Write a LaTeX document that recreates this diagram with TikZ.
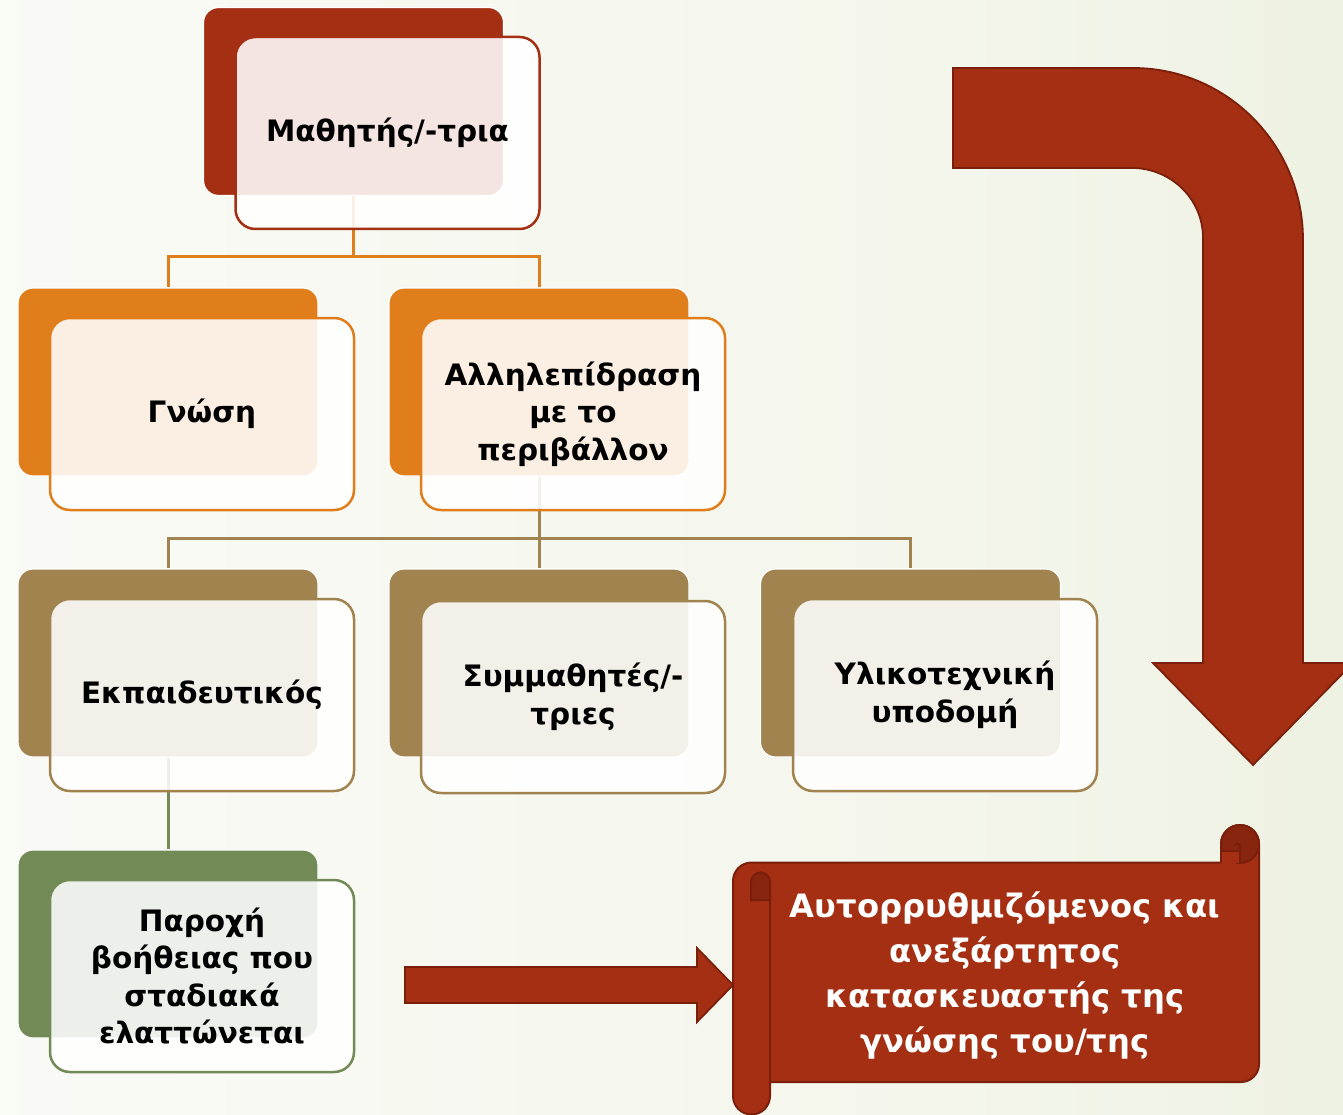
\documentclass[tikz,border=0pt]{standalone}
\usepackage{fontspec}
\setmainfont{DejaVu Sans}
\definecolor{bgA}{HTML}{F2F5E8}
\definecolor{bgL}{HTML}{FAFBF6}
\definecolor{bgM}{HTML}{F4F6EC}
\definecolor{bgR}{HTML}{E3EAD0}
\definecolor{rust}{HTML}{A52F12}
\definecolor{rustD}{HTML}{7A1F0C}
\definecolor{rustM}{HTML}{88250E}
\definecolor{orng}{HTML}{E07E1C}
\definecolor{brwn}{HTML}{A0834F}
\definecolor{grn}{HTML}{728A55}
\pgfdeclarehorizontalshading{bgshade}{100bp}{color(0bp)=(bgA); color(22bp)=(bgL); color(60bp)=(bgM); color(100bp)=(bgR)}
\tikzset{
  backbox/.style={rectangle, rounded corners=15pt, minimum width=300pt, minimum height=188pt, draw=white, line width=1.2pt, inner sep=0pt},
  frontbox/.style={rectangle, rounded corners=20pt, minimum width=304pt, minimum height=192pt, fill=white, fill opacity=0.88, text opacity=1, line width=2.5pt, align=center, inner sep=0pt, font=\bfseries\fontsize{29.5}{37.5}\selectfont},
  conn/.style={line width=3pt},
  bigarrow/.style={fill=rust, draw=rustD, line width=1.8pt, line join=miter},
  scrolltext/.style={align=center, text=white, font=\bfseries\fontsize{32.2}{45}\selectfont}
}
\begin{document}
\begin{tikzpicture}[x=1pt,y=-1pt]
\useasboundingbox (0,0) rectangle (1343,1115);
\shade[shading=bgshade] (0,0) rectangle (1343,1115);

% junction coordinates
\coordinate (j1) at (353.5,257);
\coordinate (j2) at (539,538);

% back boxes
\node[backbox, fill=rust] (b1) at (353.5,101.5) {};
\node[backbox, fill=orng] (b2) at (168,382) {};
\node[backbox, fill=orng] (b3) at (539,382) {};
\node[backbox, fill=brwn] (b4) at (168,663) {};
\node[backbox, fill=brwn] (b5) at (539,663) {};
\node[backbox, fill=brwn] (b6) at (910.5,663) {};
\node[backbox, fill=grn] (b7) at (168,944) {};

% connectors
\draw[conn, orng] (b1.south) -- (j1) -| (b2.north);
\draw[conn, orng] (j1) -| (b3.north);
\draw[conn, brwn] (b3.south) -- (j2) -| (b4.north);
\draw[conn, brwn] (j2) -| (b5.north);
\draw[conn, brwn] (j2) -| (b6.north);
\draw[conn, grn] (b4.south) -- (b7.north);

% front boxes
\node[frontbox, draw=rust] (f1) at (387.5,133) {Μαθητής/-τρια};
\node[frontbox, draw=orng] (f2) at (202,414) {Γνώση};
\node[frontbox, draw=orng] (f3) at (573,414) {Αλληλεπίδραση\\με το\\περιβάλλον};
\node[frontbox, draw=brwn] (f4) at (202,695) {Εκπαιδευτικός};
\node[frontbox, draw=brwn] (f5) at (573,697) {Συμμαθητές/-\\τριες};
\node[frontbox, draw=brwn] (f6) at (945,695) {Υλικοτεχνική\\υποδομή};
\node[frontbox, draw=grn] (f7) at (202,976) {Παροχή\\βοήθειας που\\σταδιακά\\ελαττώνεται};

% bent arrow
\draw[bigarrow] (953,68) -- (1133,68) .. controls (1227,68) and (1303,145) .. (1303,240)
  -- (1303,663) -- (1353,663) -- (1253,765) -- (1153,663) -- (1203,663) -- (1203,238)
  .. controls (1203,199) and (1171,168) .. (1132,168) -- (953,168) -- cycle;

% right arrow
\draw[bigarrow] (405,967) -- (697,967) -- (697,948) -- (733,985) -- (697,1022) -- (697,1003) -- (405,1003) -- cycle;

% scroll
\draw[fill=rust, draw=rustD, line width=2pt, line join=round]
  (733,1096) -- (733,881) arc[start angle=180, end angle=270, radius=18.5]
  -- (1221,862.5) -- (1221,844) arc[start angle=180, end angle=360, radius=19]
  -- (1259,1064) arc[start angle=0, end angle=90, radius=18] -- (770,1082)
  -- (770,1096) arc[start angle=0, end angle=180, radius=18.5] -- cycle;
% right curl
\draw[rustD, line width=2pt, fill=rustM] (1240,844) circle[radius=19];
\draw[rustD, line width=2pt, fill=rust] (1221,862.5) -- (1221,851) -- (1240,851) -- (1240,862.5);
\draw[rustD, line width=2pt] (1240,851) -- (1240,846) arc[start angle=0, end angle=-180, radius=2.5];
% left curl
\draw[rustD, line width=2pt, fill=rustM] (770,900) -- (751,900) -- (751,882) arc[start angle=180, end angle=360, radius=9.5] -- cycle;
\draw[rustD, line width=2pt] (770,881) -- (770,1082);
\node[scrolltext] (s) at (1005,975) {Αυτορρυθμιζόμενος και\\ανεξάρτητος\\κατασκευαστής της\\γνώσης του/της};
\end{tikzpicture}
\end{document}
